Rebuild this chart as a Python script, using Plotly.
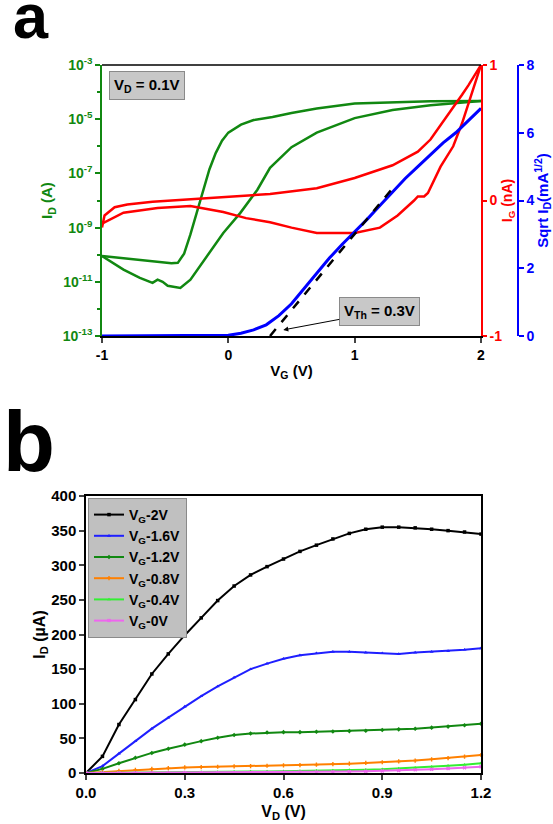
import plotly.graph_objects as go

# ---------------- Panel a data (transfer curve, V_D = 0.1 V) ----------------
vg_id_fwd = [-1.0, -0.8, -0.6, -0.45, -0.4, -0.35, -0.3, -0.25, -0.2, -0.15, -0.1,
             -0.05, 0.0, 0.1, 0.2, 0.35, 0.5, 0.7, 1.0, 1.3, 1.6, 2.0]
id_fwd = [8.9e-11, 7.1e-11, 5.6e-11, 4.8e-11, 5.0e-11, 1.1e-10, 5.6e-10, 3.5e-9,
          2.5e-8, 1.4e-7, 5.6e-7, 1.6e-6, 3.2e-6, 6.3e-6, 9.3e-6, 1.2e-5, 1.7e-5,
          2.5e-5, 3.8e-5, 4.3e-5, 4.6e-5, 4.7e-5]

vg_id_rev = [-1.0, -0.9, -0.83, -0.7, -0.6, -0.56, -0.52, -0.48, -0.38, -0.3, -0.17,
             -0.04, 0.095, 0.23, 0.33, 0.5, 0.7, 1.0, 1.3, 1.6, 2.0]
id_rev = [8.9e-11, 4.5e-11, 2.8e-11, 1.4e-11, 9.1e-12, 1.2e-11, 1.0e-11, 7.1e-12,
          5.9e-12, 1.2e-11, 8.3e-11, 6.3e-10, 3.5e-9, 2.5e-8, 1.6e-7, 9.3e-7,
          3.2e-6, 1.1e-5, 2.2e-5, 3.3e-5, 4.7e-5]

vg_ig_up = [-1.0, -0.98, -0.9, -0.8, -0.6, -0.3, 0.0, 0.33, 0.7, 1.0, 1.3, 1.5, 1.6,
            1.75, 1.85, 1.9, 2.0]
ig_up = [-0.2, -0.11, -0.05, -0.03, -0.01, 0.01, 0.025, 0.048, 0.09, 0.166, 0.26,
         0.36, 0.45, 0.645, 0.78, 0.85, 1.0]

vg_ig_low = [-1.0, -0.83, -0.56, -0.3, -0.04, 0.14, 0.33, 0.5, 0.7, 1.0, 1.2, 1.34,
             1.47, 1.5, 1.55, 1.58, 1.68, 1.78, 1.85, 1.92, 2.0]
ig_low = [-0.17, -0.09, -0.055, -0.04, -0.085, -0.13, -0.16, -0.2, -0.24, -0.24,
          -0.2, -0.11, 0.0, 0.03, 0.03, 0.055, 0.25, 0.4, 0.57, 0.77, 1.0]

vg_sqrt = [-1.0, -0.5, 0.0, 0.1, 0.2, 0.3, 0.4, 0.5, 0.6, 0.7, 0.8, 0.9, 1.0, 1.1,
           1.2, 1.3, 1.4, 1.5, 1.6, 1.7, 1.8, 1.9, 2.0]
sqrt_id = [0.0, 0.0, 0.02, 0.08, 0.18, 0.33, 0.6, 0.95, 1.4, 1.85, 2.3, 2.7, 3.07,
           3.45, 3.85, 4.25, 4.65, 5.0, 5.35, 5.7, 6.0, 6.35, 6.72]

vg_fit = [0.33, 1.32]
sqrt_fit = [0.0, 4.45]

vg_tickvals = [-1, 0, 1, 2]
vg_ticktext = ["-1", "0", "1", "2"]
id_tickvals = [1e-13, 1e-11, 1e-9, 1e-7, 1e-5, 1e-3]
id_ticktext = ["10<sup>-13</sup>", "10<sup>-11</sup>", "10<sup>-9</sup>",
               "10<sup>-7</sup>", "10<sup>-5</sup>", "10<sup>-3</sup>"]
id_minor = [1e-12, 1e-10, 1e-8, 1e-6, 1e-4]
ig_tickvals = [-1, 0, 1]
ig_ticktext = ["-1", "0", "1"]

# ---------------- Panel b data (output curves) ----------------
vd = [0.0, 0.05, 0.1, 0.15, 0.2, 0.25, 0.3, 0.35, 0.4, 0.45, 0.5, 0.55, 0.6, 0.65,
      0.7, 0.75, 0.8, 0.85, 0.9, 0.95, 1.0, 1.05, 1.1, 1.15, 1.2]
id_vg2 = [0, 24, 70, 106, 143, 172, 199, 224, 249, 270, 286, 298, 309, 320, 329,
          338, 346, 352, 355, 355, 354, 352, 350, 348, 345]
id_vg16 = [0, 10, 28, 46, 64, 80, 96, 111, 125, 138, 150, 158, 165, 170, 173, 175,
           175, 174, 173, 172, 174, 175, 176, 178, 180]
id_vg12 = [0, 6, 14, 22, 29, 35, 41, 46, 51, 55, 57, 58.5, 59, 59, 59.5, 60, 60.5,
           61, 62, 63, 64, 65.5, 67, 69, 71]
id_vg08 = [0, 1.5, 3, 4.5, 6, 7, 8, 8.5, 9, 9.5, 10, 10.5, 11, 11.5, 12, 12.7, 13.5,
           14.5, 15.5, 16.7, 18, 19.7, 21.5, 23.7, 26]
id_vg04 = [0, 0.3, 0.6, 0.8, 1, 1.1, 1.2, 1.3, 1.5, 1.7, 2, 2.2, 2.5, 2.9, 3.3, 3.7,
           4.2, 4.8, 5.5, 6.5, 7.5, 9, 10.5, 12, 14]
id_vg0 = [0, 0.1, 0.1, 0.2, 0.2, 0.2, 0.3, 0.3, 0.4, 0.5, 0.6, 0.7, 0.8, 1.0, 1.2,
          1.6, 2, 2.5, 3, 3.7, 4.5, 5.5, 6.5, 7.7, 9]

series_names = ["V<sub>G</sub>-2V", "V<sub>G</sub>-1.6V", "V<sub>G</sub>-1.2V",
                "V<sub>G</sub>-0.8V", "V<sub>G</sub>-0.4V", "V<sub>G</sub>-0V"]
series_vals = [id_vg2, id_vg16, id_vg12, id_vg08, id_vg04, id_vg0]
series_colors = ["#000000", "#1f1fff", "#118811", "#ff8000", "#33ee33", "#ee66ee"]
series_symbols = ["square", "triangle-up", "diamond", "cross", "triangle-up", "x"]

FONT = "Liberation Sans, Arial, sans-serif"
GREEN = "#118811"
RED = "#ff0000"
BLUE = "#0000ff"

fig = go.Figure()

# panel a traces
fig.add_trace(go.Scatter(x=vg_id_fwd, y=id_fwd, mode="lines", line=dict(color=GREEN, width=2.5),
                         xaxis="x", yaxis="y", showlegend=False, cliponaxis=False))
fig.add_trace(go.Scatter(x=vg_id_rev, y=id_rev, mode="lines", line=dict(color=GREEN, width=2.5),
                         xaxis="x", yaxis="y", showlegend=False, cliponaxis=False))
fig.add_trace(go.Scatter(x=vg_ig_up, y=ig_up, mode="lines", line=dict(color=RED, width=2.5),
                         xaxis="x", yaxis="y2", showlegend=False, cliponaxis=False))
fig.add_trace(go.Scatter(x=vg_ig_low, y=ig_low, mode="lines", line=dict(color=RED, width=2.5),
                         xaxis="x", yaxis="y2", showlegend=False, cliponaxis=False))
fig.add_trace(go.Scatter(x=vg_sqrt, y=sqrt_id, mode="lines", line=dict(color=BLUE, width=3),
                         xaxis="x", yaxis="y3", showlegend=False, cliponaxis=False))
fig.add_trace(go.Scatter(x=vg_fit, y=sqrt_fit, mode="lines",
                         line=dict(color="black", width=2.5, dash="dash"),
                         xaxis="x", yaxis="y3", showlegend=False, cliponaxis=False))

# panel b traces
for name, vals, col, sym in zip(series_names, series_vals, series_colors, series_symbols):
    fig.add_trace(go.Scatter(x=vd, y=vals, name=name, mode="lines+markers",
                             line=dict(color=col, width=2),
                             marker=dict(color=col, size=3.5, symbol=sym),
                             xaxis="x2", yaxis="y4", cliponaxis=False))

W, H = 553, 824
def px(v):
    return v / W
def py(v):
    return 1 - v / H

tick_a = dict(family=FONT, size=14, weight="bold")
tick_b = dict(family=FONT, size=15, weight="bold")

fig.update_layout(
    width=W, height=H, autosize=False,
    margin=dict(l=0, r=0, t=0, b=0, autoexpand=False),
    paper_bgcolor="white", plot_bgcolor="white",
    font=dict(family=FONT, color="black"),
    xaxis=dict(domain=[px(102), px(481)], range=[-1, 2], anchor="y", automargin=False,
               tickvals=vg_tickvals, ticktext=vg_ticktext, ticks="outside", ticklen=5,
               tickwidth=1.5,
               showline=True, linecolor="black", linewidth=1.5, showgrid=False,
               zeroline=False, tickfont=tick_a,
               title=dict(text="V<sub>G</sub> (V)", standoff=4,
                          font=dict(family=FONT, size=15, weight="bold"))),
    yaxis=dict(domain=[py(336), py(65)], type="log", range=[-13, -3], anchor="x",
               automargin=False,
               tickvals=id_tickvals, ticktext=id_ticktext, ticks="outside",
               ticklen=5, tickwidth=1.5, tickcolor=GREEN,
               minor=dict(tickvals=id_minor, ticks="outside", ticklen=3, tickcolor=GREEN),
               showline=True, linecolor=GREEN, linewidth=1.5, showgrid=False,
               zeroline=False, tickfont=dict(family=FONT, size=14, weight="bold", color=GREEN),
               title=dict(text="I<sub>D</sub> (A)", standoff=6,
                          font=dict(family=FONT, size=15, weight="bold", color=GREEN))),
    yaxis2=dict(overlaying="y", side="right", anchor="x", range=[-1, 1], automargin=False,
                tickvals=ig_tickvals, ticktext=ig_ticktext, ticks="outside", ticklen=4,
                tickwidth=1.5,
                tickcolor=RED, showline=True, linecolor=RED, linewidth=1.5,
                showgrid=False, zeroline=False,
                tickfont=dict(family=FONT, size=14, weight="bold", color=RED),
                title=dict(text="I<sub>G</sub> (nA)", standoff=1,
                           font=dict(family=FONT, size=14, weight="bold", color=RED))),
    yaxis3=dict(overlaying="y", side="right", anchor="free", position=px(518),
                automargin=False,
                range=[0, 8], tickvals=[0, 2, 4, 6, 8], ticks="outside", ticklen=5,
                tickwidth=1.5, tickcolor=BLUE, showline=True, linecolor=BLUE,
                linewidth=1.5, showgrid=False, zeroline=False,
                tickfont=dict(family=FONT, size=14, weight="bold", color=BLUE),
                title=dict(text="Sqrt I<sub>D</sub>(mA<sup>1/2</sup>)", standoff=7,
                           font=dict(family=FONT, size=15, weight="bold", color=BLUE))),
    xaxis2=dict(domain=[px(86), px(481)], range=[0, 1.2], anchor="y4", automargin=False,
                tickvals=[0, 0.3, 0.6, 0.9, 1.2], tickformat=".1f", ticks="outside",
                ticklen=5, tickwidth=1.5, showline=True, mirror=True, linecolor="black",
                linewidth=1.5, showgrid=False, zeroline=False, tickfont=tick_b,
                title=dict(text="V<sub>D</sub> (V)", standoff=6,
                           font=dict(family=FONT, size=16, weight="bold"))),
    yaxis4=dict(domain=[py(773), py(496)], range=[0, 400], anchor="x2", automargin=False,
                tickvals=[0, 50, 100, 150, 200, 250, 300, 350, 400], ticks="outside",
                ticklen=5, tickwidth=1.5, showline=True, mirror=True, linecolor="black",
                linewidth=1.5, showgrid=False, zeroline=False, tickfont=tick_b,
                title=dict(text="I<sub>D</sub> (µA)", standoff=2,
                           font=dict(family=FONT, size=16, weight="bold"))),
    legend=dict(x=px(88), y=py(498), xanchor="left", yanchor="top",
                bgcolor="#c0c0c0", bordercolor="#8a8a8a", borderwidth=1,
                font=dict(family=FONT, size=14, weight="bold", color="black"),
                itemwidth=30, tracegroupgap=0),
    shapes=[dict(type="line", xref="x domain", yref="y domain", x0=0, x1=1, y0=1, y1=1,
                 line=dict(color="black", width=1.5))],
    annotations=[
        dict(text="a", x=px(31), y=py(16), xref="paper", yref="paper", showarrow=False,
             xanchor="center", yanchor="middle",
             font=dict(family=FONT, size=63, weight="bold", color="black")),
        dict(text="b", x=px(29), y=py(441), xref="paper", yref="paper", showarrow=False,
             xanchor="center", yanchor="middle",
             font=dict(family=FONT, size=85, weight="bold", color="black")),
        dict(text="V<sub>D</sub> = 0.1V", x=px(147), y=py(86), xref="paper", yref="paper",
             showarrow=False, xanchor="center", yanchor="middle",
             bgcolor="#c8c8c8", bordercolor="#8a8a8a", borderwidth=1, borderpad=4,
             font=dict(family=FONT, size=15, weight="bold", color="black")),
        dict(text="V<sub>Th</sub> = 0.3V", x=0.435, y=0.18, xref="x", yref="y3",
             showarrow=True, ax=96, ay=-18, arrowhead=2, arrowsize=1, arrowwidth=1,
             arrowcolor="black", standoff=0,
             bgcolor="#c8c8c8", bordercolor="#8a8a8a", borderwidth=1, borderpad=4,
             font=dict(family=FONT, size=15, weight="bold", color="black")),
    ],
)

fig.write_html("out.html")
